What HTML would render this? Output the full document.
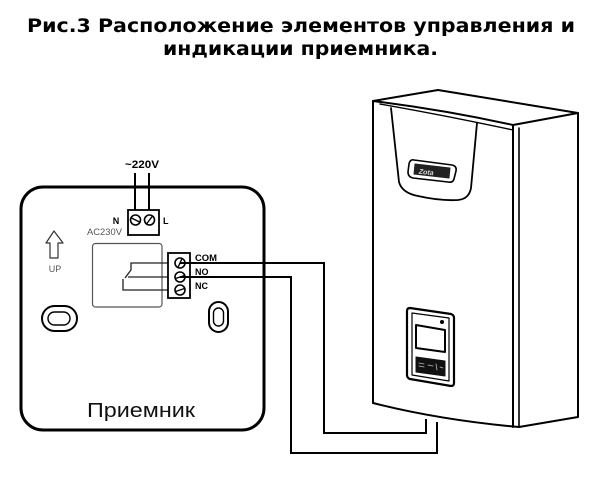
<!DOCTYPE html>
<html>
<head>
<meta charset="utf-8">
<style>
html,body{margin:0;padding:0;background:#fff;}
body{width:607px;height:480px;overflow:hidden;}
svg{display:block;}
</style>
</head>
<body>
<svg width="607" height="480" viewBox="0 0 607 480" xmlns="http://www.w3.org/2000/svg">
  <!-- Title -->
  <text x="301" y="32" text-anchor="middle" font-family="'DejaVu Sans', 'Liberation Sans', sans-serif" font-weight="bold" font-size="19" fill="#000" textLength="548" lengthAdjust="spacingAndGlyphs">Рис.3 Расположение элементов управления и</text>
  <text x="300.5" y="55" text-anchor="middle" font-family="'DejaVu Sans', 'Liberation Sans', sans-serif" font-weight="bold" font-size="19" fill="#000" textLength="275" lengthAdjust="spacingAndGlyphs">индикации приемника.</text>

  <!-- Receiver body -->
  <rect x="21" y="187" width="243" height="243" rx="22" ry="22" fill="none" stroke="#000" stroke-width="3"/>

  <!-- mains wires -->
  <line x1="135" y1="173" x2="135" y2="214" stroke="#000" stroke-width="2"/>
  <line x1="149" y1="173" x2="149" y2="214" stroke="#000" stroke-width="2"/>
  <text x="142" y="168" text-anchor="middle" font-family="'Liberation Sans', sans-serif" font-weight="bold" font-size="11" textLength="34" lengthAdjust="spacingAndGlyphs">~220V</text>

  <!-- N/L terminal block -->
  <rect x="128" y="210" width="31" height="25" fill="#fff" stroke="#000" stroke-width="1.8"/>
  <circle cx="135.5" cy="220" r="5" fill="#fff" stroke="#000" stroke-width="1.6"/>
  <line x1="131.5" y1="218" x2="139.5" y2="222" stroke="#000" stroke-width="1.4"/>
  <circle cx="149.5" cy="220" r="5" fill="#fff" stroke="#000" stroke-width="1.6"/>
  <line x1="146.5" y1="224" x2="152.5" y2="216" stroke="#000" stroke-width="1.4"/>
  <text x="116" y="224" text-anchor="middle" font-family="'Liberation Sans', sans-serif" font-weight="bold" font-size="9">N</text>
  <text x="163" y="224" font-family="'Liberation Sans', sans-serif" font-weight="bold" font-size="9">L</text>
  <text x="87" y="235" font-family="'Liberation Sans', sans-serif" font-size="9" fill="#555" textLength="35" lengthAdjust="spacingAndGlyphs">AC230V</text>

  <!-- UP arrow -->
  <path d="M54,231 L46,243 L50,243 L50,258 L58,258 L58,243 L63,243 Z" fill="#fff" stroke="#333" stroke-width="1.2" stroke-linejoin="round"/>
  <text x="55" y="272" text-anchor="middle" font-family="'Liberation Sans', sans-serif" font-size="9" fill="#555">UP</text>

  <!-- Relay box -->
  <rect x="92.5" y="243.5" width="69.5" height="63.5" rx="3" ry="3" fill="none" stroke="#555" stroke-width="1.2"/>

  <!-- relay internal lines -->
  <path d="M131,270 L131,263 L176,263" fill="none" stroke="#222" stroke-width="1.3"/>
  <line x1="131" y1="270" x2="125" y2="278" stroke="#222" stroke-width="1.3"/>
  <path d="M123,279 L123,290 L176,290" fill="none" stroke="#222" stroke-width="1.3"/>
  <line x1="128" y1="277" x2="176" y2="277" stroke="#222" stroke-width="1.3"/>

  <!-- COM/NO/NC terminal block -->
  <rect x="168" y="253" width="22" height="45" fill="#fff" stroke="#000" stroke-width="1.8"/>
  <circle cx="180" cy="263" r="5" fill="#fff" stroke="#000" stroke-width="1.6"/>
  <line x1="178" y1="267.5" x2="182" y2="258.5" stroke="#000" stroke-width="1.4"/>
  <circle cx="180" cy="277" r="5" fill="#fff" stroke="#000" stroke-width="1.6"/>
  <line x1="175.5" y1="278.5" x2="184.5" y2="275.5" stroke="#000" stroke-width="1.4"/>
  <circle cx="180" cy="290" r="5" fill="#fff" stroke="#000" stroke-width="1.6"/>
  <line x1="175.5" y1="291.5" x2="184.5" y2="288.5" stroke="#000" stroke-width="1.4"/>
  <text x="195" y="261" font-family="'Liberation Sans', sans-serif" font-weight="bold" font-size="9" textLength="22" lengthAdjust="spacingAndGlyphs">COM</text>
  <text x="195" y="275" font-family="'Liberation Sans', sans-serif" font-weight="bold" font-size="9">NO</text>
  <text x="195" y="289" font-family="'Liberation Sans', sans-serif" font-weight="bold" font-size="9">NC</text>

  <!-- mounting holes -->
  <rect x="42" y="306" width="35" height="25" rx="12.5" ry="12.5" fill="none" stroke="#000" stroke-width="2"/>
  <rect x="48" y="312" width="22" height="13" rx="6.5" ry="6.5" fill="none" stroke="#000" stroke-width="1.4"/>
  <rect x="209" y="302" width="19" height="30" rx="9.5" ry="9.5" fill="none" stroke="#000" stroke-width="2"/>
  <rect x="213.5" y="308" width="10" height="18" rx="5" ry="5" fill="none" stroke="#000" stroke-width="1.4"/>

  <!-- label -->
  <text x="87" y="417" font-family="'Liberation Sans', sans-serif" font-size="20" fill="#111" textLength="108" lengthAdjust="spacingAndGlyphs">Приемник</text>

  <!-- Connection wires -->
  <path d="M180,263 L324,263 L324,433 L426,433 L426,419" fill="none" stroke="#000" stroke-width="2"/>
  <path d="M180,277 L291,277 L291,453 L437,453 L437,422" fill="none" stroke="#000" stroke-width="2"/>

  <!-- Boiler -->
  <g fill="none" stroke="#000" stroke-linejoin="round" stroke-linecap="round">
    <!-- front face fill -->
    <path d="M373,101 Q445,110 513,125 L513,427 Q440,420 373,403 Z" fill="#fff" stroke="none"/>
    <!-- back top outline -->
    <path d="M373,101 L438,90 L578,113" stroke-width="2"/>
    <!-- front top edges -->
    <path d="M373,101 Q445,110 513,125" stroke-width="2"/>
    <path d="M380,104 Q448,116 513,130" stroke-width="1.4"/>
    <path d="M513,125 L578,113" stroke-width="2"/>
    <!-- right side -->
    <path d="M578,113 L578,417 L519,427" stroke-width="2"/>
    <!-- front right double edge -->
    <line x1="513" y1="125" x2="513" y2="427" stroke-width="2"/>
    <line x1="519" y1="128" x2="519" y2="427" stroke-width="1.6"/>
    <!-- left edge -->
    <line x1="373" y1="101" x2="373" y2="403" stroke-width="2"/>
    <!-- bottom -->
    <path d="M373,403 Q440,420 519,427" stroke-width="2"/>
    <!-- bezel -->
    <path d="M391,108 L399,182 Q402,193 418,196 Q440,201 458,200 Q469,199 471,188 L477,123" stroke-width="1.8"/>
    <!-- logo badge -->
    <path d="M414,160 L452,165 Q457,166 456,171 L454,179 Q453,183 448,182 L413,178 Q408,177 408,172 L409,164 Q410,159 414,160 Z" stroke-width="1.6" fill="#fff"/>
    <path d="M415,164 L450,168 L449,178 L414,174 Z" fill="#222" stroke="#222" stroke-width="1"/>
    <text x="419" y="175" font-family="'Liberation Sans', sans-serif" font-style="italic" font-weight="bold" font-size="7" fill="#ddd" stroke="none" transform="rotate(6 432 171)">Zota</text>
    <!-- display panel -->
    <path d="M410,308 L451,314 Q454,315 454,318 L454,383 Q454,386 451,386 L410,379 Q407,378 407,375 L407,311 Q407,308 410,308 Z" stroke-width="2.2" fill="#fff"/>
    <path d="M412,313 L449,318 L449,381 L412,375 Z" stroke-width="1.2"/>
    <path d="M416,325 L445,330 L445,352 L416,348 Z" stroke-width="2"/>
    <circle cx="442" cy="322" r="2" fill="#000" stroke="none"/>
    <path d="M416,357 L445,361 L445,376 L416,372 Z" fill="#111" stroke="#111" stroke-width="1"/>
    <path d="M419,363 L424,364 M419,366 L424,367 M428,365 L433,366 M436,364 L437,370 M440,367 L443,368" stroke="#bbb" stroke-width="0.8"/>
  </g>
</svg>
</body>
</html>
